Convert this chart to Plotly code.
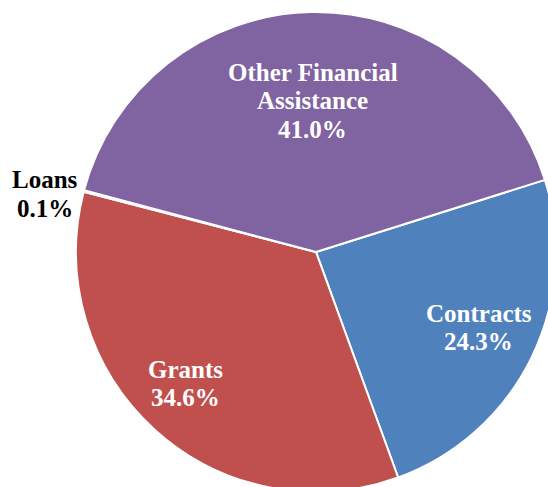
import math
import plotly.graph_objects as go

labels = ["Contracts", "Grants", "Loans", "Other Financial<br>Assistance"]
values = [24.3, 34.6, 0.1, 41.0]
colors = ["#4F81BD", "#C0504D", "#9BBB59", "#8064A2"]
text_colors = ["white", "white", "black", "white"]
# label placement: radial fraction (>=1 = outside) and angle nudge from slice middle
label_radius = [0.747, 0.772, 1.0, 0.63]
label_angle_nudge = [-1.3, 2.5, 0.0, 0.0]

ROTATION = 72.5
FONT = "Liberation Serif, Times New Roman, serif"
FONT_SIZE = 25
LINE_STEP = 28.5  # px between text lines

fig = go.Figure(go.Pie(
    labels=labels,
    values=values,
    sort=False,
    direction="clockwise",
    rotation=ROTATION,
    marker=dict(colors=colors, line=dict(color="white", width=2)),
    textinfo="none",
    showlegend=False,
    hoverinfo="label+value",
))

total = sum(values)
cum = 0.0
for lab, val, rf, nudge, tc in zip(labels, values, label_radius, label_angle_nudge, text_colors):
    mid = ROTATION + 360.0 * (cum + val / 2) / total + nudge
    cum += val
    a = math.radians(mid)
    x = 0.5 + 0.5 * rf * math.sin(a)
    y = 0.5 + 0.5 * rf * math.cos(a)
    lines = lab.split("<br>") + [f"{val:.1f}%"]
    outside = rf >= 1.0
    n = len(lines)
    for i, ln in enumerate(lines):
        fig.add_annotation(
            x=x, y=y, xref="paper", yref="paper", showarrow=False,
            text=f"<b>{ln}</b>",
            font=dict(family=FONT, size=FONT_SIZE, color=tc),
            xanchor="center", yanchor="middle",
            xshift=-39 if outside else 0,
            yshift=((n - 1) / 2 - i) * LINE_STEP + (-3 if outside else 0),
        )

fig.update_layout(
    width=556, height=492,
    margin=dict(l=76, r=0, t=12, b=0),
    paper_bgcolor="white",
    font=dict(family=FONT, size=FONT_SIZE),
)

fig.write_html(
    "out.html",
    config={"displayModeBar": False},
    post_script="document.documentElement.style.overflow='hidden';document.body.style.overflow='hidden';document.body.style.margin='0';",
)
